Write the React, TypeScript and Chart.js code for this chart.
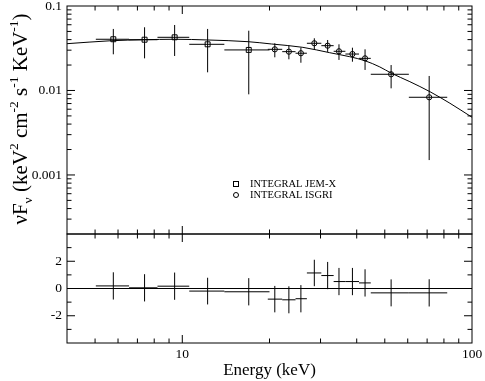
import React, { useEffect, useRef } from 'react';
import { Chart, registerables } from 'chart.js';
Chart.register(...registerables);

const FONT = '"Liberation Serif", "Times New Roman", Times, serif';

// ---------- data ----------
// INTEGRAL JEM-X
const jemxEnergy = [5.78, 7.41, 9.41, 12.23, 16.96];
const jemxEnergyLo = [5.03, 6.55, 8.21, 10.57, 13.97];
const jemxEnergyHi = [6.55, 8.21, 10.57, 13.97, 20.0];
const jemxFlux = [0.0404, 0.0399, 0.0426, 0.0352, 0.0302];
const jemxFluxLo = [0.0268, 0.024, 0.0256, 0.0164, 0.009];
const jemxFluxHi = [0.0535, 0.056, 0.0596, 0.0535, 0.051];
const jemxResid = [0.19, 0.05, 0.17, -0.19, -0.24];
const jemxResidErr = [1.0, 1.0, 1.0, 0.98, 1.0];

// INTEGRAL ISGRI
const isgriEnergy = [20.86, 23.33, 25.67, 28.56, 31.75, 34.74, 38.66, 42.74, 52.58, 71.15];
const isgriEnergyLo = [19.73, 22.13, 24.6, 26.92, 30.2, 33.3, 36.56, 40.74, 44.73, 60.54];
const isgriEnergyHi = [22.13, 24.6, 26.92, 30.2, 33.3, 36.56, 40.74, 44.73, 60.54, 82.13];
const isgriFlux = [0.0307, 0.0288, 0.0276, 0.0362, 0.0339, 0.0291, 0.027, 0.024, 0.01555, 0.00831];
const isgriFluxLo = [0.0247, 0.0234, 0.0213, 0.0307, 0.0286, 0.023, 0.0219, 0.0175, 0.0106, 0.0015];
const isgriFluxHi = [0.0362, 0.0339, 0.0321, 0.0415, 0.0396, 0.0352, 0.0321, 0.0307, 0.02, 0.01485];
const isgriResid = [-0.78, -0.83, -0.75, 1.14, 0.95, 0.51, 0.51, 0.41, -0.32, -0.32];
const isgriResidErr = [0.97, 0.99, 1.0, 0.97, 1.0, 1.0, 1.0, 1.0, 0.99, 1.0];

// best-fit model curve
const modelEnergy = [4.0, 5.68, 7.41, 9.41, 12.27, 16.88, 20.32, 26.08, 32.27, 37.84, 42.64, 48.06, 52.74, 61.03, 71.56, 83.9, 100];
const modelFlux = [0.0358, 0.0388, 0.0399, 0.0404, 0.0396, 0.0378, 0.0355, 0.0324, 0.028, 0.0251, 0.02253, 0.019, 0.01598, 0.01271, 0.00968, 0.00706, 0.00482];

// axes and ticks
const energyMin = 4;
const energyMax = 100;
const fluxMin = 2e-4;
const fluxMax = 0.1;
const residMin = -4;
const residMax = 4;
const energyLabelTicks = [10, 100];
const energyMajorTicks = [10];
const energyMinorTicks = [5, 6, 7, 8, 9, 20, 30, 40, 50, 60, 70, 80, 90];
const fluxLabelTicks = [0.1, 0.01, 0.001];
const fluxMajorTicks = [0.01, 0.001];
const fluxMinorTicks = [
  0.0003, 0.0004, 0.0005, 0.0006, 0.0007, 0.0008, 0.0009,
  0.002, 0.003, 0.004, 0.005, 0.006, 0.007, 0.008, 0.009,
  0.02, 0.03, 0.04, 0.05, 0.06, 0.07, 0.08, 0.09,
];
const residLabelTicks = [-2, 0, 2];
const residMajorTicks = [-2, 0, 2];
const residMinorTicks = [-3, -1, 1, 3];

const legendLabels = ['INTEGRAL JEM-X', 'INTEGRAL ISGRI'];
const xTitle = 'Energy (keV)';

// ---------- plugins ----------
const MAJOR = 8;
const MINOR = 4.5;

function framePlugin(id: string, xMajor: number[], xMinor: number[], yMajor: number[], yMinor: number[], zero: boolean) {
  return {
    id,
    afterDatasetsDraw(chart: any) {
      const { ctx, chartArea: a, scales } = chart;
      const xs = scales.x;
      const ys = scales.y;
      ctx.save();
      ctx.strokeStyle = '#000';
      ctx.lineWidth = 1;
      ctx.strokeRect(a.left, a.top, a.right - a.left, a.bottom - a.top);
      ctx.beginPath();
      const xt = (v: number, len: number) => {
        const p = xs.getPixelForValue(v);
        ctx.moveTo(p, a.top);
        ctx.lineTo(p, a.top + len);
        ctx.moveTo(p, a.bottom);
        ctx.lineTo(p, a.bottom - len);
      };
      const yt = (v: number, len: number) => {
        const p = ys.getPixelForValue(v);
        ctx.moveTo(a.left, p);
        ctx.lineTo(a.left + len, p);
        ctx.moveTo(a.right, p);
        ctx.lineTo(a.right - len, p);
      };
      xMajor.forEach((v) => xt(v, MAJOR));
      xMinor.forEach((v) => xt(v, MINOR));
      yMajor.forEach((v) => yt(v, MAJOR));
      yMinor.forEach((v) => yt(v, MINOR));
      if (zero) {
        const p = ys.getPixelForValue(0);
        ctx.moveTo(a.left, p);
        ctx.lineTo(a.right, p);
      }
      ctx.stroke();
      ctx.restore();
    },
  };
}

type Series = { x: number[]; xlo: number[]; xhi: number[]; y: number[]; ylo: number[]; yhi: number[] };

function errorBarPlugin(id: string, series: Series[]) {
  return {
    id,
    beforeDatasetsDraw(chart: any) {
      const { ctx, chartArea: a, scales } = chart;
      const xs = scales.x;
      const ys = scales.y;
      ctx.save();
      ctx.beginPath();
      ctx.rect(a.left, a.top, a.right - a.left, a.bottom - a.top);
      ctx.clip();
      ctx.strokeStyle = '#000';
      ctx.lineWidth = 1;
      ctx.beginPath();
      series.forEach((s) => {
        s.x.forEach((xv, i) => {
          const px = xs.getPixelForValue(xv);
          const py = ys.getPixelForValue(s.y[i]);
          ctx.moveTo(xs.getPixelForValue(s.xlo[i]), py);
          ctx.lineTo(xs.getPixelForValue(s.xhi[i]), py);
          ctx.moveTo(px, ys.getPixelForValue(s.ylo[i]));
          ctx.lineTo(px, ys.getPixelForValue(s.yhi[i]));
        });
      });
      ctx.stroke();
      ctx.restore();
    },
  };
}

const yTitlePlugin = {
  id: 'ytitle',
  afterDraw(chart: any) {
    const ctx = chart.ctx;
    const big = `21px ${FONT}`;
    const small = `13.5px ${FONT}`;
    const parts: [string, string, number][] = [
      ['\u03bdF', big, 0],
      ['\u03bd', small, 5],
      [' (keV', big, 0],
      ['2', small, -9],
      [' cm', big, 0],
      ['-2', small, -9],
      [' s', big, 0],
      ['-1', small, -9],
      [' KeV', big, 0],
      ['-1', small, -9],
      [')', big, 0],
    ];
    ctx.save();
    ctx.translate(27, 119);
    ctx.rotate(-Math.PI / 2);
    ctx.fillStyle = '#000';
    ctx.textBaseline = 'alphabetic';
    ctx.textAlign = 'left';
    let total = 0;
    parts.forEach(([t, f]) => {
      ctx.font = f;
      total += ctx.measureText(t).width;
    });
    let x = -total / 2;
    parts.forEach(([t, f, dy]) => {
      ctx.font = f;
      ctx.fillText(t, x, dy);
      x += ctx.measureText(t).width;
    });
    ctx.restore();
  },
};

const legendPlugin = {
  id: 'legendbox',
  afterDraw(chart: any) {
    const ctx = chart.ctx;
    ctx.save();
    ctx.strokeStyle = '#000';
    ctx.lineWidth = 1;
    ctx.strokeRect(233.5, 181.5, 5, 5);
    ctx.beginPath();
    ctx.arc(236, 195, 2.5, 0, Math.PI * 2);
    ctx.stroke();
    ctx.fillStyle = '#000';
    ctx.font = `10.5px ${FONT}`;
    ctx.textBaseline = 'middle';
    ctx.textAlign = 'left';
    ctx.fillText(legendLabels[0], 250, 184.5);
    ctx.fillText(legendLabels[1], 250, 195.5);
    ctx.restore();
  },
};

const near = (v: number, list: number[]) => list.find((t) => Math.abs(Math.log10(Math.abs(v)) - Math.log10(Math.abs(t))) < 1e-6);

export default function App() {
  const topRef = useRef<HTMLCanvasElement>(null);
  const botRef = useRef<HTMLCanvasElement>(null);

  useEffect(() => {
    const tickFont = { family: FONT, size: 13.5 };
    const top = new Chart(topRef.current as HTMLCanvasElement, {
      type: 'scatter',
      data: {
        datasets: [
          {
            type: 'line',
            data: modelEnergy.map((e, i) => ({ x: e, y: modelFlux[i] })),
            borderColor: '#000',
            borderWidth: 1,
            pointRadius: 0,
            fill: false,
            cubicInterpolationMode: 'monotone',
          } as any,
          {
            data: jemxEnergy.map((e, i) => ({ x: e, y: jemxFlux[i] })),
            pointStyle: 'rect',
            pointRadius: 3.5,
            borderColor: '#000',
            borderWidth: 1,
            backgroundColor: 'rgba(0,0,0,0)',
          },
          {
            data: isgriEnergy.map((e, i) => ({ x: e, y: isgriFlux[i] })),
            pointStyle: 'circle',
            pointRadius: 2.6,
            borderColor: '#000',
            borderWidth: 1,
            backgroundColor: 'rgba(0,0,0,0)',
          },
        ],
      },
      options: {
        responsive: false,
        animation: false,
        devicePixelRatio: 1,
        layout: { padding: { top: 6, right: 13, bottom: 6, left: 0 } },
        plugins: { legend: { display: false }, tooltip: { enabled: false } },
        scales: {
          x: { type: 'logarithmic', min: energyMin, max: energyMax, display: false },
          y: {
            type: 'logarithmic',
            min: fluxMin,
            max: fluxMax,
            grid: { display: false, drawTicks: false },
            border: { display: false },
            ticks: {
              autoSkip: false,
              padding: 5,
              color: '#000',
              font: tickFont,
              callback: (v: any) => {
                const t = near(Number(v), fluxLabelTicks);
                return t === undefined ? '' : String(t);
              },
            },
            afterFit: (s: any) => {
              s.width = 67;
              s.paddingTop = 0;
              s.paddingBottom = 0;
            },
          },
        },
      } as any,
      plugins: [
        errorBarPlugin('eb1', [
          { x: jemxEnergy, xlo: jemxEnergyLo, xhi: jemxEnergyHi, y: jemxFlux, ylo: jemxFluxLo, yhi: jemxFluxHi },
          { x: isgriEnergy, xlo: isgriEnergyLo, xhi: isgriEnergyHi, y: isgriFlux, ylo: isgriFluxLo, yhi: isgriFluxHi },
        ]),
        framePlugin('fr1', energyMajorTicks, energyMinorTicks, fluxMajorTicks, fluxMinorTicks, false),
        yTitlePlugin,
        legendPlugin,
      ],
    });

    const bot = new Chart(botRef.current as HTMLCanvasElement, {
      type: 'scatter',
      data: {
        datasets: [
          { data: jemxEnergy.map((e, i) => ({ x: e, y: jemxResid[i] })), pointRadius: 0 },
          { data: isgriEnergy.map((e, i) => ({ x: e, y: isgriResid[i] })), pointRadius: 0 },
        ],
      },
      options: {
        responsive: false,
        animation: false,
        devicePixelRatio: 1,
        layout: { padding: { top: 6, right: 13, bottom: 0, left: 0 } },
        plugins: { legend: { display: false }, tooltip: { enabled: false } },
        scales: {
          x: {
            type: 'logarithmic',
            min: energyMin,
            max: energyMax,
            grid: { display: false, drawTicks: false },
            border: { display: false },
            ticks: {
              autoSkip: false,
              maxRotation: 0,
              minRotation: 0,
              padding: 3,
              color: '#000',
              font: tickFont,
              callback: (v: any) => {
                const t = near(Number(v), energyLabelTicks);
                return t === undefined ? '' : String(t);
              },
            },
            title: {
              display: true,
              text: xTitle,
              color: '#000',
              font: { family: FONT, size: 17 },
              padding: { top: 0, bottom: 0 },
            },
            afterFit: (s: any) => {
              s.height = 38;
              s.paddingLeft = 0;
              s.paddingRight = 0;
            },
          },
          y: {
            type: 'linear',
            min: residMin,
            max: residMax,
            grid: { display: false, drawTicks: false },
            border: { display: false },
            ticks: {
              stepSize: 2,
              autoSkip: false,
              padding: 5,
              color: '#000',
              font: tickFont,
              callback: (v: any) => (residLabelTicks.includes(Number(v)) ? String(v) : ''),
            },
            afterFit: (s: any) => {
              s.width = 67;
              s.paddingTop = 0;
              s.paddingBottom = 0;
            },
          },
        },
      } as any,
      plugins: [
        errorBarPlugin('eb2', [
          {
            x: jemxEnergy, xlo: jemxEnergyLo, xhi: jemxEnergyHi, y: jemxResid,
            ylo: jemxResid.map((r, i) => r - jemxResidErr[i]), yhi: jemxResid.map((r, i) => r + jemxResidErr[i]),
          },
          {
            x: isgriEnergy, xlo: isgriEnergyLo, xhi: isgriEnergyHi, y: isgriResid,
            ylo: isgriResid.map((r, i) => r - isgriResidErr[i]), yhi: isgriResid.map((r, i) => r + isgriResidErr[i]),
          },
        ]),
        framePlugin('fr2', energyMajorTicks, energyMinorTicks, residMajorTicks, residMinorTicks, true),
      ],
    });

    return () => {
      top.destroy();
      bot.destroy();
    };
  }, []);

  return (
    <div style={{ position: 'absolute', left: 0, top: 0, width: 485, height: 381, background: '#fff' }}>
      <canvas ref={topRef} width={485} height={240} style={{ position: 'absolute', left: 0, top: 0, width: 485, height: 240 }} />
      <canvas ref={botRef} width={485} height={153} style={{ position: 'absolute', left: 0, top: 228, width: 485, height: 153 }} />
    </div>
  );
}
